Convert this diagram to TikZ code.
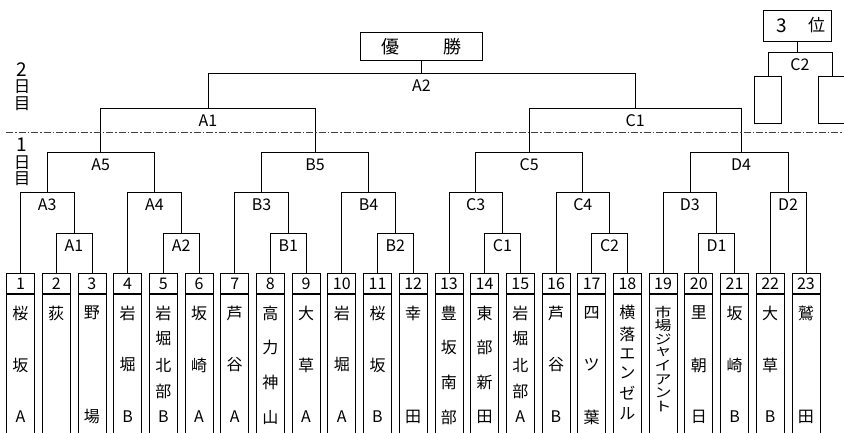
\documentclass[tikz,border=0pt]{standalone}
\usepackage{fontspec}
\setmainfont{Noto Sans CJK JP}
\begin{document}
\begin{tikzpicture}[x=1pt,y=-1pt,line width=0.8pt,
  lbl/.style={font=\fontsize{16}{16}\selectfont,inner sep=0pt,anchor=base,yshift=-18pt},
  numbox/.style={draw,minimum width=28pt,minimum height=20pt,inner sep=0pt,anchor=north,text height=16.3pt,text depth=3.7pt,font=\fontsize{16}{16}\selectfont},
  namebox/.style={draw,minimum width=28pt,minimum height=160pt,inner sep=0pt,anchor=north},
  jp/.style={font=\fontsize{16}{16}\selectfont,inner sep=0pt},
  jps/.style={font=\fontsize{17}{17}\selectfont,inner sep=0pt},
  day/.style={font=\fontsize{16.5}{16.5}\selectfont,inner sep=0pt},
  dayn/.style={font=\fontsize{19}{19}\selectfont,inner sep=0pt},
  topbox/.style={draw,inner sep=0pt},
  sepline/.style={line width=0.7pt,black!75,dash pattern=on 7pt off 2pt on 1.5pt off 2pt}]
\useasboundingbox (0,0) rectangle (844,432);
\clip (0,0) rectangle (844,432);

% team boxes
\foreach \i in {1,...,23}{
  \pgfmathsetmacro\cx{20.5+(\i-1)*35.7}
  \node[numbox] (n\i) at (\cx,273) {\i};
  \node[namebox] (b\i) at (n\i.south) {};
}
\foreach \i/\st/\nm in {1/52/{桜,坂,A},2/0/{荻},3/104/{野,場},4/52/{岩,堀,B},
  5/26/{岩,堀,北,部,B},6/52/{坂,崎,A},7/52/{芦,谷,A},8/34.67/{高,力,神,山},
  9/52/{大,草,A},10/52/{岩,堀,A},11/52/{桜,坂,B},12/104/{幸,田},
  13/34.67/{豊,坂,南,部},14/34.67/{東,部,新,田},15/26/{岩,堀,北,部,A},
  16/52/{芦,谷,B},17/52/{四,ツ,葉},20/52/{里,朝,日},21/52/{坂,崎,B},
  22/52/{大,草,B},23/104/{鷲,田}}{
  \pgfmathsetmacro\cx{20.5+(\i-1)*35.7}
  \foreach \c [count=\k] in \nm {
    \node[jp] at (\cx,{313+(\k-1)*\st}) {\c};
  }
}
\foreach \c/\yy in {横/312,落/334,エ/354,ン/373,ゼ/393,ル/414}{
  \node[jp] at (627.4,\yy) {\c};
}
\foreach \c/\yy in {市/312,場/325.5,ジ/339,ャ/352.5,イ/366,ア/379.5,ン/393,ト/406.5}{
  \node[jps] at (663.1,\yy) {\scalebox{1}[0.78]{\c}};
}

% match points
\coordinate (mA1) at (74.05,233.3);
\coordinate (mA2) at (181.15,233.3);
\coordinate (mB1) at (288.25,233.3);
\coordinate (mB2) at (395.35,233.3);
\coordinate (mC1) at (502.45,233.3);
\coordinate (mC2) at (609.55,233.3);
\coordinate (mD1) at (716.65,233.3);
\coordinate (mA3) at (47.3,192.3);
\coordinate (mA4) at (154.4,192.3);
\coordinate (mB3) at (261.5,192.3);
\coordinate (mB4) at (368.6,192.3);
\coordinate (mC3) at (475.7,192.3);
\coordinate (mC4) at (582.8,192.3);
\coordinate (mD3) at (689.9,192.3);
\coordinate (mD2) at (788.05,192.3);
\coordinate (mA5) at (100.8,152.3);
\coordinate (mB5) at (315,152.3);
\coordinate (mC5) at (529.2,152.3);
\coordinate (mD4) at (741,152.3);
\coordinate (sA) at (207.9,108.3);
\coordinate (sC) at (635.1,108.3);
\coordinate (fin) at (421.5,73.7);

% first round
\draw (n2.north) |- (mA1) -| (n3.north);
\draw (n5.north) |- (mA2) -| (n6.north);
\draw (n8.north) |- (mB1) -| (n9.north);
\draw (n11.north) |- (mB2) -| (n12.north);
\draw (n14.north) |- (mC1) -| (n15.north);
\draw (n17.north) |- (mC2) -| (n18.north);
\draw (n20.north) |- (mD1) -| (n21.north);
% second round
\draw (n1.north) |- (mA3) -| (mA1);
\draw (n4.north) |- (mA4) -| (mA2);
\draw (n7.north) |- (mB3) -| (mB1);
\draw (n10.north) |- (mB4) -| (mB2);
\draw (n13.north) |- (mC3) -| (mC1);
\draw (n16.north) |- (mC4) -| (mC2);
\draw (n19.north) |- (mD3) -| (mD1);
\draw (n22.north) |- (mD2) -| (n23.north);
% third round
\draw (mA3) |- (mA5) -| (mA4);
\draw (mB3) |- (mB5) -| (mB4);
\draw (mC3) |- (mC5) -| (mC4);
\draw (mD3) |- (mD4) -| (mD2);
% semi finals and final
\draw (mA5) |- (sA) -| (mB5);
\draw (mC5) |- (sC) -| (mD4);
\draw (sA) |- (fin) -| (sC);

% labels
\foreach \m/\t in {mA1/A1,mA2/A2,mB1/B1,mB2/B2,mC1/C1,mC2/C2,mD1/D1,
  mA3/A3,mA4/A4,mB3/B3,mB4/B4,mC3/C3,mC4/C4,mD3/D3,mD2/D2,
  mA5/A5,mB5/B5,mC5/C5,mD4/D4,sA/A1,sC/C1,fin/A2}{
  \node[lbl] (l\m) at (\m) {\t};
}

% winner box
\node[topbox,minimum width=121.6pt,minimum height=28pt] (win) at (421.5,46.3) {};
\node[font=\fontsize{18}{18}\selectfont,inner sep=0pt] (w1) at (390.5,46.3) {優};
\node[font=\fontsize{18}{18}\selectfont,inner sep=0pt] (w2) at (452.5,46.3) {勝};
\draw (win.south) -- (fin);

% third place
\node[topbox,minimum width=68.4pt,minimum height=31pt] (third) at (797.5,25.5) {};
\node[font=\fontsize{19}{19}\selectfont,inner sep=0pt] (t1) at (781.7,25.5) {3};
\node[font=\fontsize{17}{17}\selectfont,inner sep=0pt] (t2) at (816.7,25.5) {位};
\coordinate (pC2) at (800,52.3);
\node[topbox,minimum width=27.4pt,minimum height=47.3pt] (p1) at (768,99.7) {};
\node[topbox,minimum width=27.4pt,minimum height=47.3pt] (p2) at (832,99.7) {};
\draw (third.south) -- (third.south |- pC2);
\draw (p1.north) |- (pC2) -| (p2.north);
\node[lbl] (lpC2) at (pC2) {C2};

% day separator and day labels
\draw[sepline] (6,132.7) -- (844,132.7);
\node[dayn] (d2a) at (22,70) {2};
\node[day] (d2b) at (22,86.2) {日};
\node[day] (d2c) at (22,103.7) {目};
\node[dayn] (d1a) at (22,144.5) {1};
\node[day] (d1b) at (22,162.3) {日};
\node[day] (d1c) at (22,178.8) {目};
\end{tikzpicture}
\end{document}
